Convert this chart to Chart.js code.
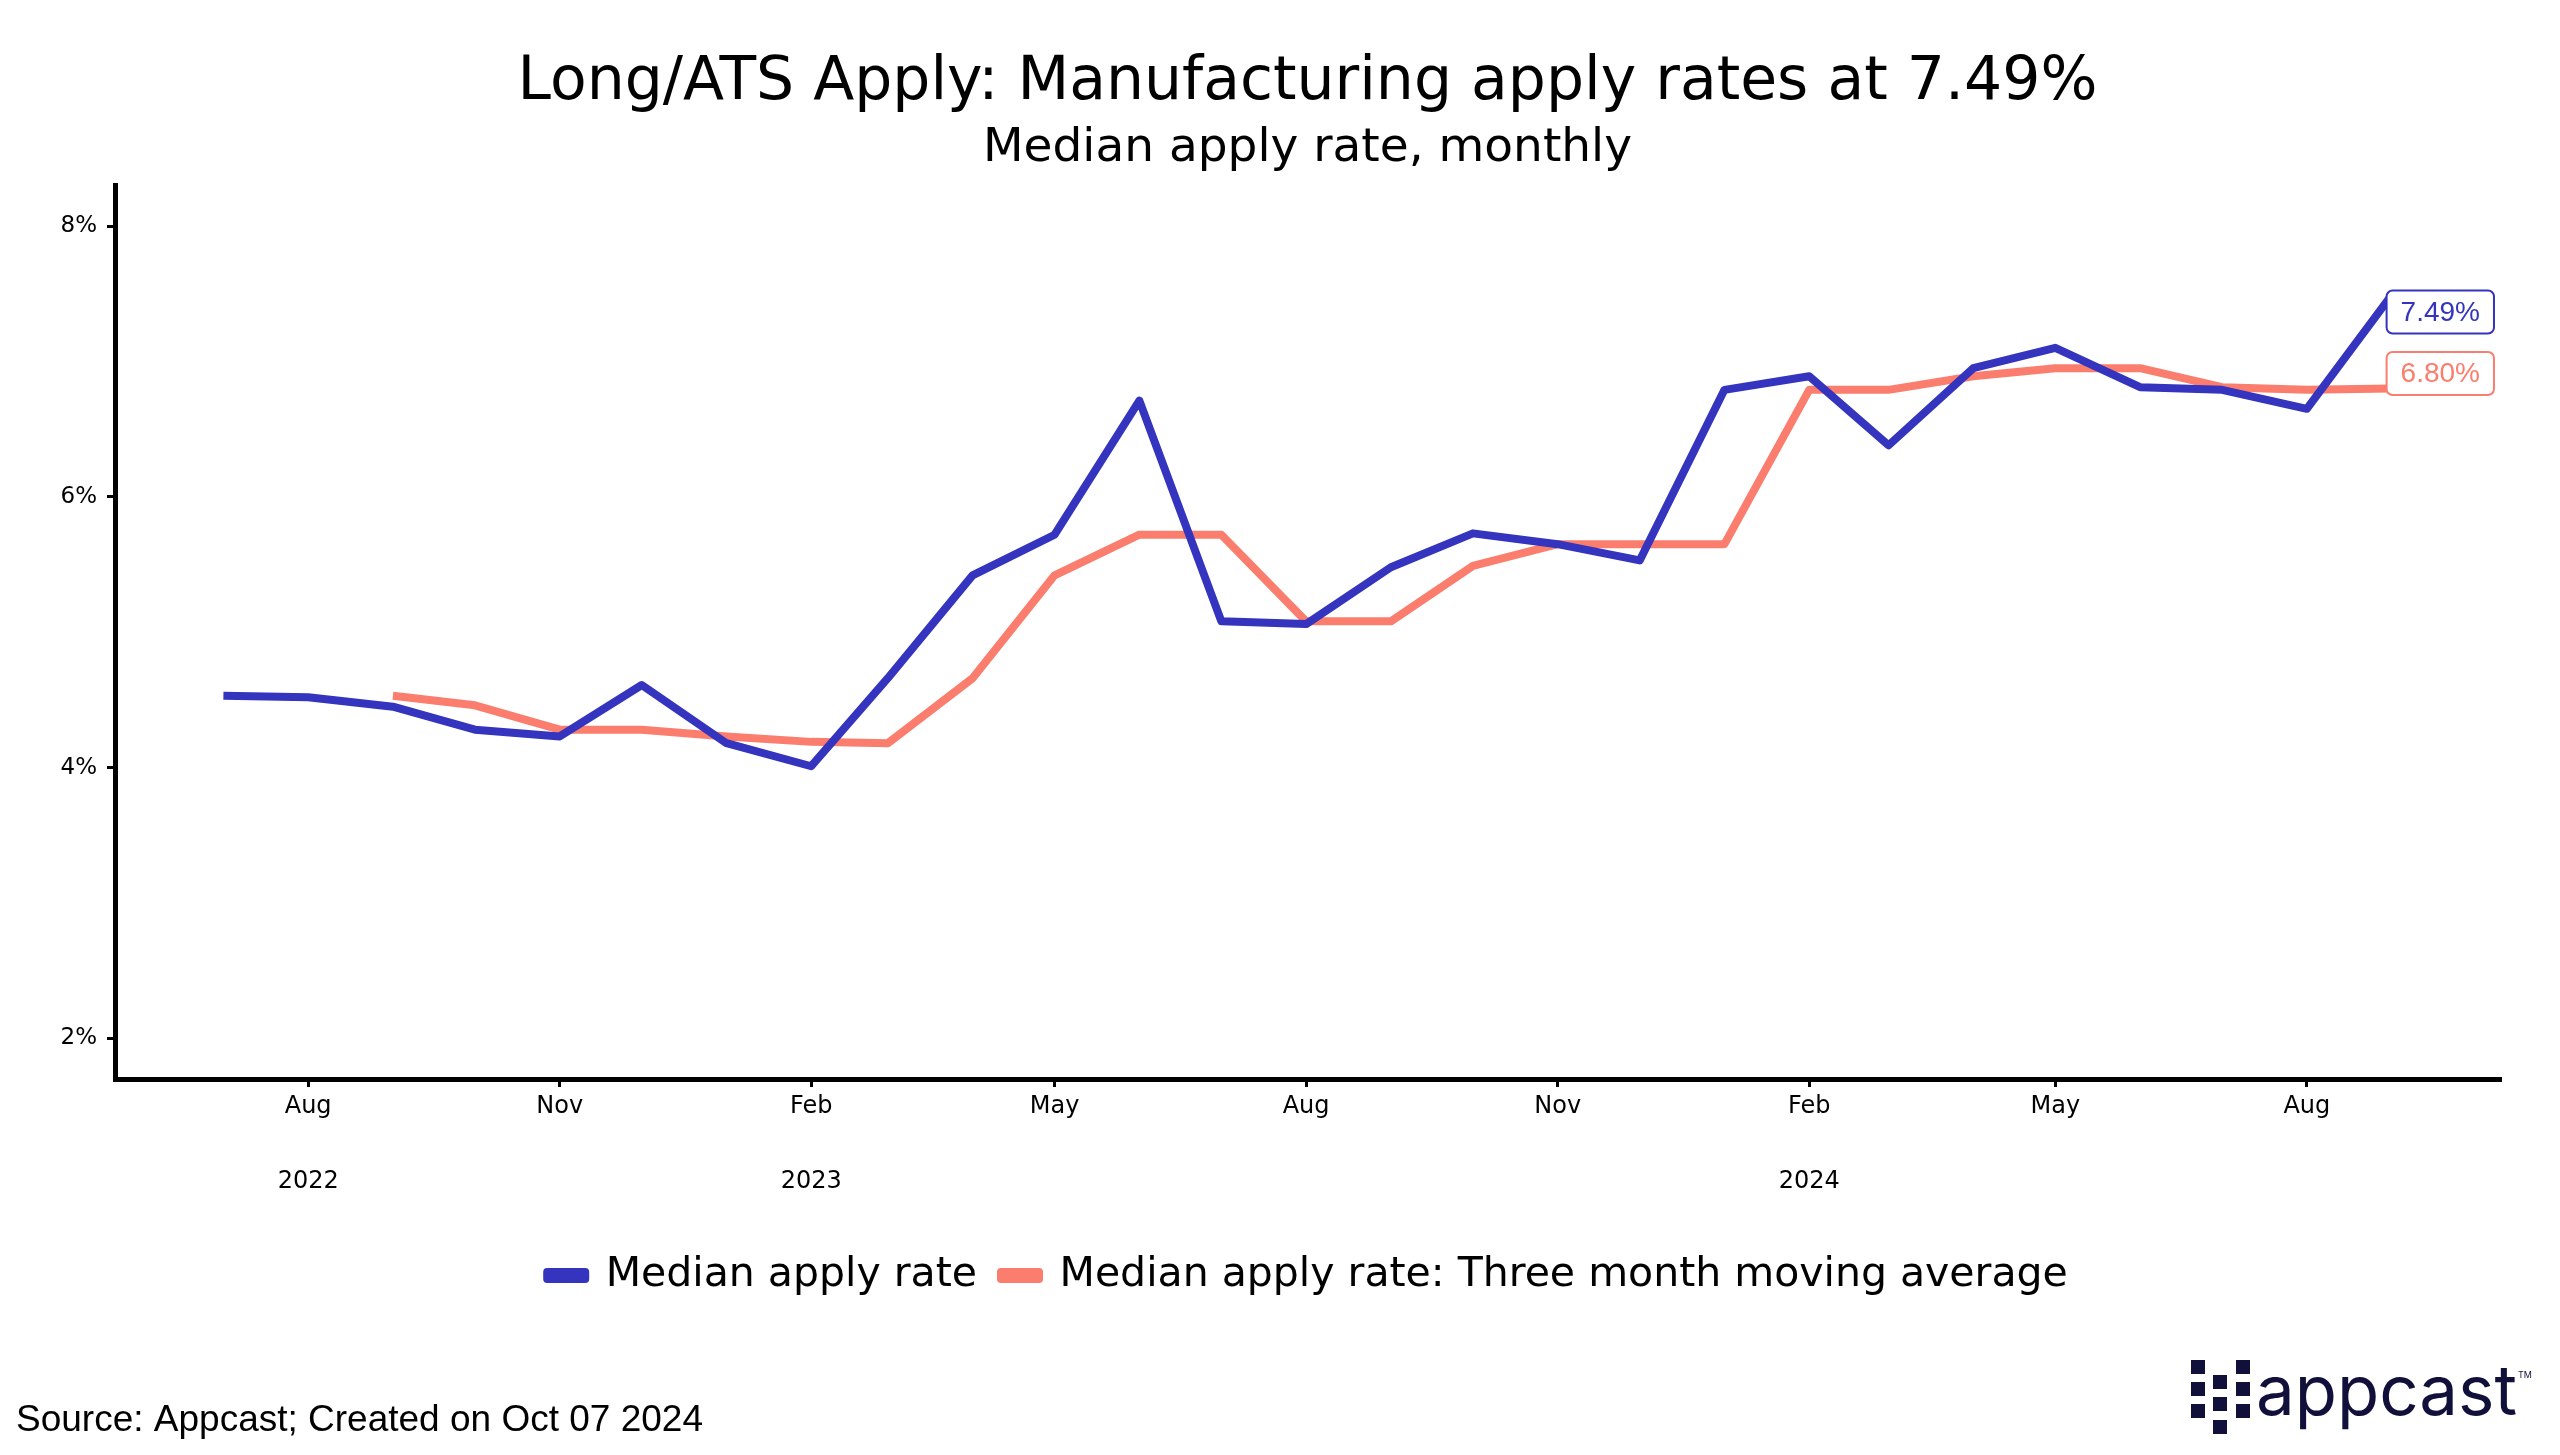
<!DOCTYPE html>
<html>
<head>
<meta charset="utf-8">
<script src="https://cdn.jsdelivr.net/npm/chart.js@4.4.1/dist/chart.umd.min.js"></script>
<style>
html,body{margin:0;padding:0;background:#fff;}
#wrap{width:2560px;height:1455px;position:relative;}
</style>
</head>
<body>
<div id="wrap"><canvas id="myLineChart" width="2560" height="1455"></canvas></div>
<script>
// monthly data, Jul 2022 - Sep 2024
const months = ["2022-07","2022-08","2022-09","2022-10","2022-11","2022-12",
  "2023-01","2023-02","2023-03","2023-04","2023-05","2023-06","2023-07","2023-08","2023-09","2023-10","2023-11","2023-12",
  "2024-01","2024-02","2024-03","2024-04","2024-05","2024-06","2024-07","2024-08","2024-09"];
const applyRate = [4.53,4.52,4.45,4.28,4.23,4.61,4.18,4.01,4.66,5.42,5.72,6.71,5.08,5.06,5.48,5.73,5.65,5.53,
  6.79,6.89,6.38,6.95,7.10,6.81,6.79,6.65,7.49];
const movingAvg = [null,null,4.53,4.46,4.28,4.28,4.23,4.19,4.18,4.66,5.42,5.72,5.72,5.08,5.08,5.49,5.65,5.65,
  5.65,6.79,6.79,6.89,6.95,6.95,6.81,6.79,6.80];
const tickMonths = ["2022-08","2022-11","2023-02","2023-05","2023-08","2023-11","2024-02","2024-05","2024-08"];
const tickLabels = [["Aug","2022"],["Nov"],["Feb","2023"],["May"],["Aug"],["Nov"],["Feb","2024"],["May"],["Aug"]];
const yTicks = [2,4,6,8];

const BLUE = "#3434BE";
const SALMON = "#FA7D6E";
const WIDE = "'DejaVu Sans'";

function dayOf(m){
  return Date.UTC(+m.slice(0,4), +m.slice(5,7)-1, 1)/86400000;
}
function toPoints(vals){
  return months.map((m,i) => ({x: dayOf(m), y: vals[i]}));
}
const first = dayOf(months[0]), last = dayOf(months[months.length-1]);
const pad = (last-first)*0.05;

// boxed value labels at the end of each line
const endLabels = {
  id: "endLabels",
  afterDatasetsDraw(chart){
    const ctx = chart.ctx;
    const shift = [17, -15];
    chart.data.datasets.forEach((ds,i) => {
      const meta = chart.getDatasetMeta(i);
      const pt = meta.data[meta.data.length-1];
      const txt = ds.data[ds.data.length-1].y.toFixed(2) + "%";
      ctx.save();
      ctx.font = "28px 'Liberation Sans'";
      const w = ctx.measureText(txt).width + 28, h = 43;
      const x = pt.x - 5, y = pt.y + shift[i] - h/2;
      ctx.beginPath();
      ctx.roundRect(x, y, w, h, 6);
      ctx.fillStyle = "#fff";
      ctx.fill();
      ctx.lineWidth = 2;
      ctx.strokeStyle = ds.borderColor;
      ctx.stroke();
      ctx.fillStyle = ds.borderColor;
      ctx.textBaseline = "middle";
      ctx.fillText(txt, x + 14, y + h/2 + 1);
      ctx.restore();
    });
  }
};

// source note and logo
const footer = {
  id: "footer",
  afterDraw(chart){
    const ctx = chart.ctx;
    ctx.save();
    ctx.fillStyle = "#000";
    ctx.font = "37px 'Liberation Sans'";
    ctx.textBaseline = "alphabetic";
    ctx.fillText("Source: Appcast; Created on Oct 07 2024", 16, 1431);
    ctx.fillStyle = "#10103a";
    const cols = [[2191,[1360,1382,1404]],[2213,[1375,1397,1420]],[2236,[1360,1382,1404]]];
    cols.forEach(c => c[1].forEach(y => ctx.fillRect(c[0], y, 14, 14)));
    ctx.font = "69px Inter";
    ctx.fillText("appcast", 2256, 1415);
    ctx.font = "9px Inter";
    ctx.fillText("TM", 2518, 1378);
    ctx.restore();
  }
};

var ctx = document.getElementById("myLineChart");
var myChart = new Chart(ctx, {
  type: "line",
  data: {
    datasets: [
      {
        label: "Median apply rate",
        data: toPoints(applyRate),
        borderColor: BLUE,
        backgroundColor: BLUE,
        borderWidth: 8,
        borderJoinStyle: "round",
        pointRadius: 0,
        tension: 0,
        fill: false
      },
      {
        label: "Median apply rate: Three month moving average",
        data: toPoints(movingAvg),
        borderColor: SALMON,
        backgroundColor: SALMON,
        borderWidth: 8,
        borderJoinStyle: "round",
        pointRadius: 0,
        tension: 0,
        fill: false
      }
    ]
  },
  options: {
    responsive: false,
    animation: false,
    events: [],
    layout: {padding: {left: 0, right: 60, top: 0, bottom: 149}},
    scales: {
      x: {
        type: "linear",
        min: first - pad,
        max: last + pad,
        afterBuildTicks: s => { s.ticks = tickMonths.map(m => ({value: dayOf(m)})); },
        afterFit: s => { s.height = 152; },
        grid: {display: true, drawOnChartArea: false, drawTicks: true, tickLength: 8, lineWidth: 3, color: "#000"},
        border: {display: true, width: 5, color: "#000"},
        ticks: {
          autoSkip: false,
          maxRotation: 0,
          padding: -18,
          color: "#000",
          font: {family: WIDE, size: 24, lineHeight: "75px"},
          callback: (v, i) => tickLabels[i]
        }
      },
      y: {
        min: 1.7,
        max: 8.3,
        afterBuildTicks: s => { s.ticks = yTicks.map(v => ({value: v})); },
        afterFit: s => { s.width = 115; },
        grid: {display: true, drawOnChartArea: false, drawTicks: true, tickLength: 8, lineWidth: 3, color: "#000"},
        border: {display: true, width: 5, color: "#000"},
        ticks: {
          padding: 10,
          color: "#000",
          font: {family: WIDE, size: 23},
          callback: v => v + "%"
        }
      }
    },
    plugins: {
      title: {
        display: true,
        fullSize: false,
        text: "Long/ATS Apply: Manufacturing apply rates at 7.49%",
        color: "#000",
        font: {family: WIDE, size: 60, weight: "normal", lineHeight: 1.2},
        padding: {top: 47, bottom: 0}
      },
      subtitle: {
        display: true,
        fullSize: false,
        text: "Median apply rate, monthly",
        color: "#000",
        font: {family: WIDE, size: 47, weight: "normal", lineHeight: 1.2},
        padding: {top: 2, bottom: 8}
      },
      legend: {
        display: true,
        position: "bottom",
        fullSize: false,
        labels: {
          color: "#000",
          font: {family: WIDE, size: 41},
          boxWidth: 38,
          boxHeight: 7,
          padding: 24
        }
      },
      tooltip: {enabled: false}
    }
  },
  plugins: [endLabels, footer]
});
</script>
</body>
</html>
